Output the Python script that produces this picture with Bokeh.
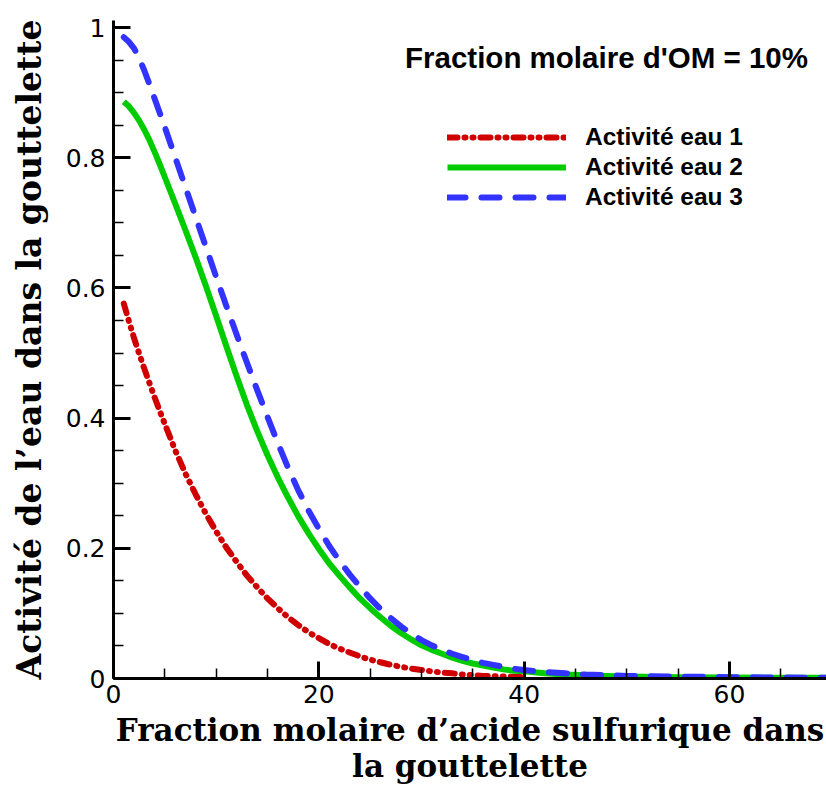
from bokeh.plotting import figure
from bokeh.models import Range1d, FixedTicker, Label, Legend, LegendItem
from bokeh.embed import file_html
from bokeh.resources import INLINE

# ---- data ----
red_x = [1, 1.5, 2, 2.5, 3, 3.5, 4, 4.5, 5, 6, 7, 8, 9, 10, 11, 12, 13, 14, 15, 16, 17, 18, 19, 20,
         21, 22, 23, 24, 25, 26, 27, 28, 29, 30, 31, 32, 33, 34, 35, 36, 37, 38, 39, 40]
red_y = [0.576, 0.549, 0.523, 0.499, 0.476, 0.454, 0.432, 0.411, 0.391, 0.351, 0.315, 0.283,
         0.253, 0.226, 0.201, 0.179, 0.158, 0.140, 0.123, 0.108, 0.094, 0.082, 0.071, 0.062,
         0.053, 0.046, 0.040, 0.034, 0.029, 0.025, 0.021, 0.018, 0.015, 0.013,
         0.011, 0.009, 0.008, 0.006, 0.005, 0.004, 0.0035, 0.003, 0.0025, 0.002]

green_x = [1, 1.5, 2, 2.5, 3, 3.5, 4, 4.5, 5, 6, 7, 8, 9, 10, 11, 12, 13, 14, 15, 16, 17, 18, 19, 20,
           21, 22, 23, 24, 25, 26, 27, 28, 29, 30, 31, 32, 33, 34, 35, 36, 37, 38, 39, 40,
           42, 44, 46, 48, 50, 55, 60, 65, 70]
green_y = [0.886, 0.879, 0.869, 0.857, 0.843, 0.827, 0.809, 0.790, 0.770, 0.730, 0.689, 0.647,
           0.603, 0.557, 0.510, 0.464, 0.420, 0.380, 0.343, 0.309, 0.278, 0.249, 0.223, 0.199,
           0.177, 0.158, 0.140, 0.123, 0.108, 0.094, 0.081, 0.070, 0.060, 0.051,
           0.044, 0.038, 0.032, 0.027, 0.023, 0.020, 0.017, 0.014, 0.012, 0.011,
           0.008, 0.006, 0.005, 0.004, 0.003, 0.002, 0.0015, 0.0012, 0.001]

blue_x = [1, 1.5, 2, 2.5, 3, 3.5, 4, 4.5, 5, 6, 7, 8, 9, 10, 11, 12, 13, 14, 15, 16, 17, 18, 19, 20,
          21, 22, 23, 24, 25, 26, 27, 28, 29, 30, 31, 32, 33, 34, 35, 36, 37, 38, 39, 40,
          42, 44, 46, 48, 50, 55, 60, 65, 70]
blue_y = [0.985, 0.978, 0.968, 0.953, 0.934, 0.913, 0.891, 0.869, 0.847, 0.801, 0.755, 0.709,
          0.663, 0.617, 0.572, 0.528, 0.485, 0.443, 0.402, 0.362, 0.324, 0.289, 0.258, 0.230,
          0.204, 0.181, 0.160, 0.141, 0.123, 0.107, 0.093, 0.080, 0.069, 0.059,
          0.051, 0.044, 0.038, 0.033, 0.028, 0.024, 0.021, 0.018, 0.015, 0.013,
          0.010, 0.008, 0.006, 0.005, 0.004, 0.003, 0.002, 0.0015, 0.001]

series_names = ["Activité eau 1", "Activité eau 2", "Activité eau 3"]
x_major = [0, 20, 40, 60]
x_minor = list(range(0, 75, 5))
y_major = [0, 0.2, 0.4, 0.6, 0.8, 1]
y_tick_labels = ["0", "0.2", "0.4", "0.6", "0.8", "1"]
y_minor = [i * 0.05 for i in range(0, 21)]

title_text = "Fraction molaire d'OM = 10%"
xlabel = "Fraction molaire d’acide sulfurique dans\nla gouttelette"
ylabel = "Activité de l’eau dans la gouttelette"

# ---- figure ----
p = figure(width=826, height=787, output_backend="svg", toolbar_location=None,
           x_range=Range1d(0, 69.45), y_range=Range1d(0, 1.0108),
           min_border_left=113, min_border_right=0, min_border_top=20, min_border_bottom=109)
p.outline_line_color = None
p.grid.visible = False
p.background_fill_color = "white"

r1 = p.line(red_x, red_y, line_color="#d00000", line_width=6, line_dash="10 7 1 7 1 7",
            line_cap="round", line_join="round")
r2 = p.line(green_x, green_y, line_color="#00cc00", line_width=6, line_join="round")
r3 = p.line(blue_x, blue_y, line_color="#3333ff", line_width=6, line_dash="18 16",
            line_cap="round", line_join="round")

for ax in (p.xaxis[0], p.yaxis[0]):
    ax.axis_line_width = 3
    ax.axis_line_color = "black"
    ax.major_tick_line_width = 3
    ax.major_tick_in = 17
    ax.major_tick_out = 0
    ax.minor_tick_line_width = 1.5
    ax.minor_tick_in = 10
    ax.minor_tick_out = 0
    ax.major_label_text_font = "DejaVu Sans"
    ax.major_label_text_font_size = "25px"
    ax.major_label_text_color = "black"
    ax.axis_label_text_font = "DejaVu Serif"
    ax.axis_label_text_font_style = "bold"
    ax.axis_label_text_color = "black"

p.xaxis[0].ticker = FixedTicker(ticks=x_major, minor_ticks=x_minor)
p.yaxis[0].ticker = FixedTicker(ticks=y_major, minor_ticks=y_minor)
p.yaxis[0].major_label_overrides = {v: s for v, s in zip(y_major, y_tick_labels)}
p.xaxis[0].major_label_standoff = 6
p.yaxis[0].major_label_standoff = 8
p.xaxis[0].axis_label = xlabel
p.xaxis[0].axis_label_text_font_size = "31px"
p.xaxis[0].axis_label_text_line_height = 1.0
p.xaxis[0].axis_label_standoff = 6
p.yaxis[0].axis_label = ylabel
p.yaxis[0].axis_label_text_font_size = "33px"
p.yaxis[0].axis_label_standoff = 14

legend = Legend(items=[LegendItem(label=series_names[0], renderers=[r1]),
                       LegendItem(label=series_names[1], renderers=[r2]),
                       LegendItem(label=series_names[2], renderers=[r3])],
                location=(334, 466), orientation="vertical",
                glyph_width=119, glyph_height=30, label_height=30, spacing=0,
                padding=0, margin=0, label_standoff=19,
                label_text_font="Liberation Sans", label_text_font_style="bold",
                label_text_font_size="24.5px", label_text_color="black",
                background_fill_alpha=0, border_line_alpha=0)
p.add_layout(legend, "center")

p.add_layout(Label(x=493, y=621, x_units="screen", y_units="screen", text=title_text,
                   text_align="center", text_baseline="alphabetic",
                   text_font="Liberation Sans", text_font_style="bold",
                   text_font_size="29.5px", text_color="black"))

open("out.html", "w").write(file_html(p, INLINE))
